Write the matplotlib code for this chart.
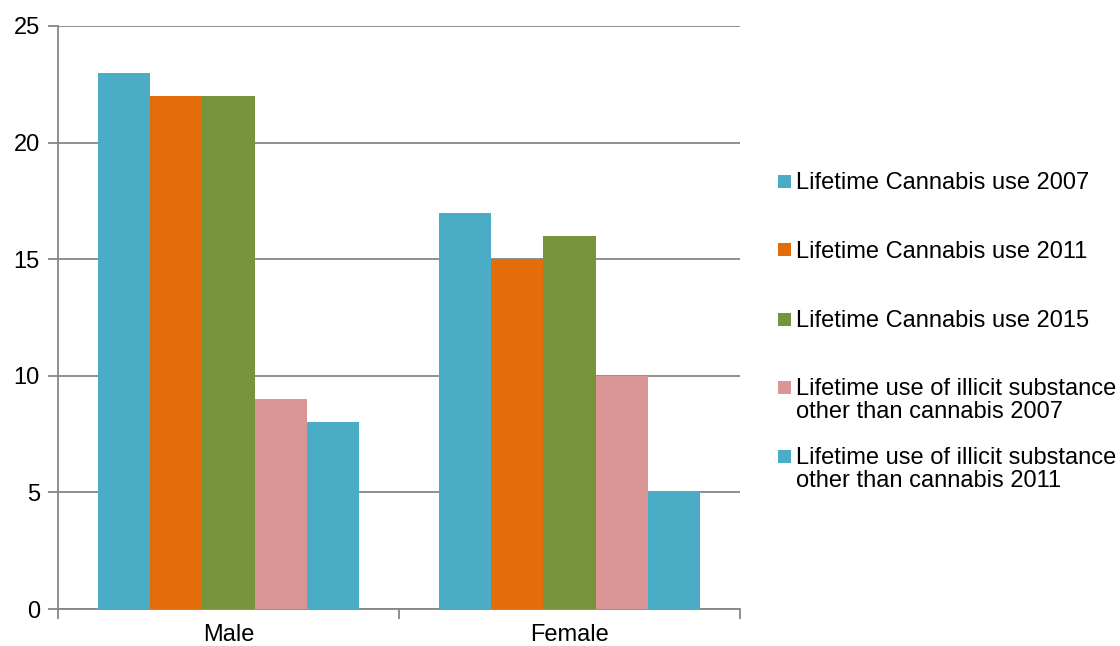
import matplotlib
matplotlib.use('Agg')
import matplotlib.pyplot as plt
import matplotlib.patches as mpatches
import numpy as np

plt.rcParams['font.family'] = ['Liberation Sans', 'DejaVu Sans']

# data
groups = ['Male', 'Female']
series_names = ['Lifetime Cannabis use 2007',
                'Lifetime Cannabis use 2011',
                'Lifetime Cannabis use 2015',
                'Lifetime use of illicit substance\nother than cannabis 2007',
                'Lifetime use of illicit substance\nother than cannabis 2011']
cannabis_2007 = [23, 17]
cannabis_2011 = [22, 15]
cannabis_2015 = [22, 16]
illicit_2007 = [9, 10]
illicit_2011 = [8, 5]
colors = ['#4BACC6', '#E46C0A', '#77933C', '#D99694', '#4BACC6']

values = [cannabis_2007, cannabis_2011, cannabis_2015, illicit_2007, illicit_2011]

fig = plt.figure(figsize=(11.2, 6.46), dpi=100)
ax = fig.add_axes([58 / 1120, 1 - 609 / 646, (740 - 58) / 1120, (609 - 26) / 646])

x = np.arange(len(groups))
w = 0.1525
for j, vals in enumerate(values):
    ax.bar(x + (j - 2) * w, vals, width=w, color=colors[j], edgecolor='none', zorder=3)

grid_col = '#868686'
ax.set_xlim(-0.5, 1.5)
ax.set_ylim(0, 25)
ax.set_yticks(range(0, 26, 5))
ax.yaxis.grid(True, color=grid_col, linewidth=1.3, zorder=0)
ax.set_xticks(x)
ax.set_xticklabels(groups)
ax.set_xticks([-0.5, 0.5, 1.5], minor=True)
ax.tick_params(axis='x', which='major', length=0, pad=11, labelsize=17)
ax.tick_params(axis='x', which='minor', length=7, width=1.3, color=grid_col)
ax.tick_params(axis='y', length=7, width=1.3, color=grid_col, labelsize=17, pad=6)
for side in ['top', 'right']:
    ax.spines[side].set_visible(False)
for side in ['left', 'bottom']:
    ax.spines[side].set_color(grid_col)
    ax.spines[side].set_linewidth(1.3)

# legend drawn by hand so entries are evenly spaced like the original
entry_y = [181, 250, 319, 387, 456]
for j, name in enumerate(series_names):
    yc = entry_y[j]
    fig.patches.append(mpatches.Rectangle((778 / 1120, 1 - (yc + 6.5) / 646), 13 / 1120, 13 / 646,
                                          transform=fig.transFigure, facecolor=colors[j],
                                          edgecolor='none'))
    fig.text(796 / 1120, 1 - (yc - 9) / 646, name, fontsize=17, va='top', ha='left',
             linespacing=1.05)

fig.savefig('out.png', dpi=100)
